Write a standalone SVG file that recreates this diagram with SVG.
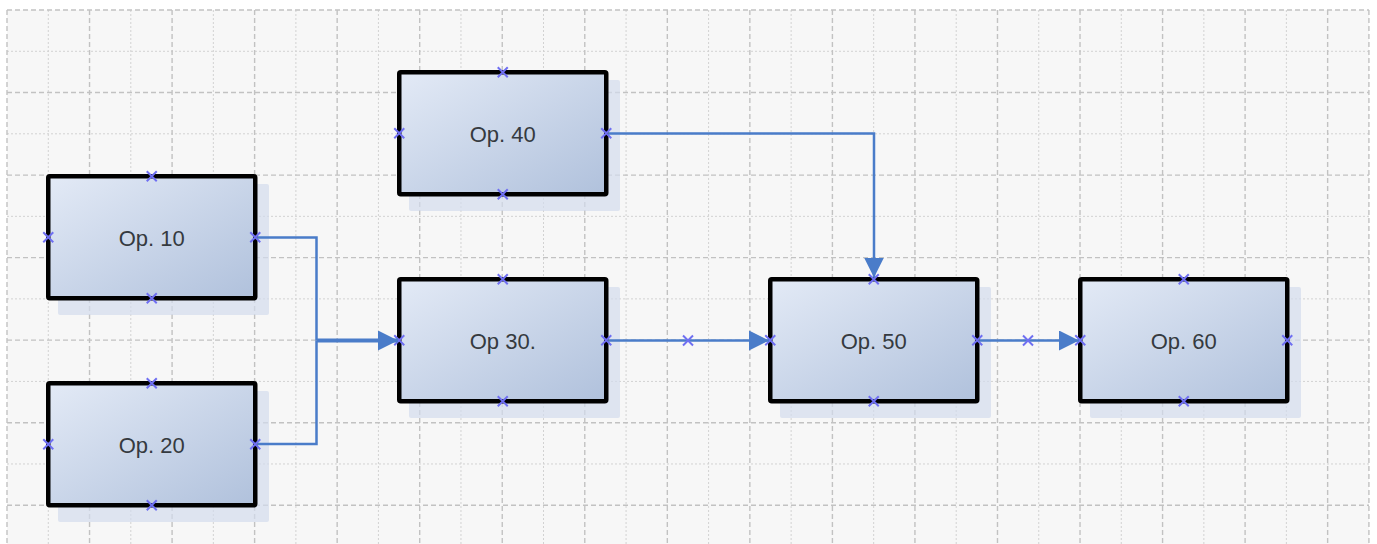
<svg xmlns="http://www.w3.org/2000/svg" width="1377" height="544" viewBox="0 0 1377 544">
<style>
.major{fill:none;stroke:#c2c2c2;stroke-width:1.4;stroke-dasharray:5 3}
.minor{fill:none;stroke:#d2d2d2;stroke-width:1;stroke-dasharray:2 2}
.shadow{fill:#d3dcec;opacity:0.7}
.box{fill:url(#boxfill);stroke:#000;stroke-width:4.5}
.lbl{font-family:"Liberation Sans",Arial,sans-serif;font-size:22px;fill:#353a40;text-anchor:middle}
.cp{fill:none;stroke:#6f6ff2;stroke-width:2}
.conn{fill:none;stroke:#4a7cc9;stroke-width:2.5}
</style>
<defs>
<linearGradient id="boxfill" x1="0" y1="0" x2="1" y2="1">
<stop offset="0" stop-color="#e3eaf6"/>
<stop offset="1" stop-color="#b0c1dc"/>
</linearGradient>
<marker id="arrow" markerUnits="userSpaceOnUse" markerWidth="21" markerHeight="21" refX="20" refY="10" orient="auto" viewBox="0 0 21 21">
<path d="M0,0 L20,10 L0,20 Z" fill="#4a7cc9"/>
</marker>
<path id="x" d="M-5,-5 L5,5 M-5,5 L5,-5"/>
</defs>
<rect x="0" y="0" width="1377" height="544" fill="#ffffff"/>
<rect x="7" y="10" width="1362" height="534" fill="#f7f7f7"/>
<g id="grid">
<path class="minor" d="M48.27,10V544M130.81,10V544M213.35,10V544M295.89,10V544M378.43,10V544M460.97,10V544M543.51,10V544M626.05,10V544M708.59,10V544M791.13,10V544M873.67,10V544M956.21,10V544M1038.75,10V544M1121.29,10V544M1203.83,10V544M1286.37,10V544M7,51.27H1369M7,133.81H1369M7,216.35H1369M7,298.89H1369M7,381.43H1369M7,463.97H1369"/>
<path class="major" d="M7,10V544M89.54,10V544M172.08,10V544M254.62,10V544M337.16,10V544M419.7,10V544M502.24,10V544M584.78,10V544M667.32,10V544M749.86,10V544M832.4,10V544M914.94,10V544M997.48,10V544M1080.02,10V544M1162.56,10V544M1245.1,10V544M1327.64,10V544M1368.91,10V544M7,10H1369M7,92.54H1369M7,175.08H1369M7,257.62H1369M7,340.16H1369M7,422.7H1369M7,505.24H1369"/>
</g>
<g id="op10">
<rect class="shadow" x="58" y="184" width="211" height="131" rx="2"/>
<rect class="box" x="48.25" y="176.25" width="207" height="122" rx="1.5"/>
<text class="lbl" x="151.75" y="245.5">Op. 10</text>
<use href="#x" class="cp" x="151.75" y="176.25"/><use href="#x" class="cp" x="151.75" y="298.25"/><use href="#x" class="cp" x="48.25" y="237.25"/><use href="#x" class="cp" x="255.25" y="237.25"/>
</g>
<g id="op20">
<rect class="shadow" x="58" y="391" width="211" height="131" rx="2"/>
<rect class="box" x="48.25" y="383.25" width="207" height="122" rx="1.5"/>
<text class="lbl" x="151.75" y="452.5">Op. 20</text>
<use href="#x" class="cp" x="151.75" y="383.25"/><use href="#x" class="cp" x="151.75" y="505.25"/><use href="#x" class="cp" x="48.25" y="444.25"/><use href="#x" class="cp" x="255.25" y="444.25"/>
</g>
<g id="op40">
<rect class="shadow" x="409" y="80" width="211" height="131" rx="2"/>
<rect class="box" x="399.25" y="72.25" width="207" height="122" rx="1.5"/>
<text class="lbl" x="502.75" y="141.5">Op. 40</text>
<use href="#x" class="cp" x="502.75" y="72.25"/><use href="#x" class="cp" x="502.75" y="194.25"/><use href="#x" class="cp" x="399.25" y="133.25"/><use href="#x" class="cp" x="606.25" y="133.25"/>
</g>
<g id="op30">
<rect class="shadow" x="409" y="287" width="211" height="131" rx="2"/>
<rect class="box" x="399.25" y="279.25" width="207" height="122" rx="1.5"/>
<text class="lbl" x="502.75" y="348.5">Op 30.</text>
<use href="#x" class="cp" x="502.75" y="279.25"/><use href="#x" class="cp" x="502.75" y="401.25"/><use href="#x" class="cp" x="399.25" y="340.25"/><use href="#x" class="cp" x="606.25" y="340.25"/>
</g>
<g id="op50">
<rect class="shadow" x="780" y="287" width="211" height="131" rx="2"/>
<rect class="box" x="770.25" y="279.25" width="207" height="122" rx="1.5"/>
<text class="lbl" x="873.75" y="348.5">Op. 50</text>
<use href="#x" class="cp" x="873.75" y="279.25"/><use href="#x" class="cp" x="873.75" y="401.25"/><use href="#x" class="cp" x="770.25" y="340.25"/><use href="#x" class="cp" x="977.25" y="340.25"/>
</g>
<g id="op60">
<rect class="shadow" x="1090" y="287" width="211" height="131" rx="2"/>
<rect class="box" x="1080.25" y="279.25" width="207" height="122" rx="1.5"/>
<text class="lbl" x="1183.75" y="348.5">Op. 60</text>
<use href="#x" class="cp" x="1183.75" y="279.25"/><use href="#x" class="cp" x="1183.75" y="401.25"/><use href="#x" class="cp" x="1080.25" y="340.25"/><use href="#x" class="cp" x="1287.25" y="340.25"/>
</g>
<g id="connectors">
<path class="conn" d="M257.5,237.5 H316.5 V340.5"/>
<path class="conn" d="M257.5,444 H316.5 V340.5"/>
<path class="conn" style="stroke-width:3.8" d="M316.5,340.5 H398" marker-end="url(#arrow)"/>
<path class="conn" d="M608.5,133.5 H874 V277.5" marker-end="url(#arrow)"/>
<path class="conn" d="M608.5,340.5 H769" marker-end="url(#arrow)"/>
<use href="#x" class="cp" x="688" y="340.5"/>
<path class="conn" d="M979.5,340.5 H1079" marker-end="url(#arrow)"/>
<use href="#x" class="cp" x="1028" y="340.5"/>
</g>
</svg>
